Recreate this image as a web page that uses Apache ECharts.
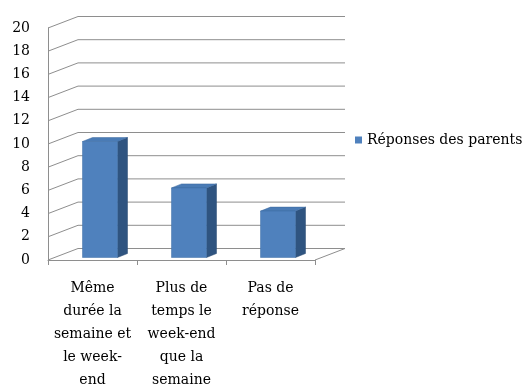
<!DOCTYPE html>
<html>
<head>
<meta charset="utf-8">
<script src="https://cdn.jsdelivr.net/npm/echarts@6/dist/echarts.min.js"></script>
<style>
  html, body { margin: 0; padding: 0; background: #fff; }
  #chart { width: 526px; height: 387px; }
</style>
</head>
<body>
<div id="chart"></div>
<script>
// Categories (line breaks as they wrap under the axis)
const categories = [
  'Même\ndurée la\nsemaine et\nle week-\nend',
  'Plus de\ntemps le\nweek-end\nque la\nsemaine',
  'Pas de\nréponse'
];
const seriesName = 'Réponses des parents';
const values = [10, 6, 4];
const yTicks = [0, 2, 4, 6, 8, 10, 12, 14, 16, 18, 20];

// Perspective of the box (back wall offset) and of the bars
const DEPTH_X = 30, DEPTH_Y = -11.5;
const BAR_W = 35, BAR_SHIFT_X = 7.5, BAR_SHIFT_Y = -2.5, BAR_DX = 10, BAR_DY = -4;
const GRID_COLOR = '#8e8e8e';
const FONT = '"DejaVu Serif", "Liberation Serif", serif';

const chart = echarts.init(document.getElementById('chart'), null, { renderer: 'canvas' });

function wallItem(params, api) {
  const cs = params.coordSys;
  const v = api.value(0);
  const y = api.coord([0, v])[1];
  const x0 = cs.x, x1 = cs.x + cs.width;
  const style = { stroke: GRID_COLOR, lineWidth: 1, fill: null };
  const children = [
    { type: 'line', shape: { x1: x0, y1: y, x2: x0 + DEPTH_X, y2: y + DEPTH_Y }, style },
    { type: 'line', shape: { x1: x0 + DEPTH_X, y1: y + DEPTH_Y, x2: x1 + DEPTH_X, y2: y + DEPTH_Y }, style }
  ];
  if (v === 0) {
    children.push({ type: 'line', shape: { x1: x1, y1: y, x2: x1 + DEPTH_X, y2: y + DEPTH_Y }, style });
  }
  return { type: 'group', children };
}

function barItem(params, api) {
  const top = api.coord([api.value(0), api.value(1)]);
  const base = api.coord([api.value(0), 0]);
  const xl = top[0] - BAR_W / 2 + BAR_SHIFT_X;
  const xr = xl + BAR_W;
  const yt = top[1] + BAR_SHIFT_Y;
  const yb = base[1] + BAR_SHIFT_Y;
  return {
    type: 'group',
    children: [
      { type: 'polygon', shape: { points: [[xr, yt], [xr + BAR_DX, yt + BAR_DY], [xr + BAR_DX, yb + BAR_DY], [xr, yb]] },
        style: { fill: '#2f5480', stroke: '#2a4a72', lineWidth: 0.5 } },
      { type: 'polygon', shape: { points: [[xl, yt], [xl + BAR_DX, yt + BAR_DY], [xr + BAR_DX, yt + BAR_DY], [xr, yt]] },
        style: { fill: '#4a7bb5', stroke: '#3d6aa0', lineWidth: 0.5 } },
      { type: 'rect', shape: { x: xl, y: yt, width: BAR_W, height: yb - yt },
        style: { fill: '#4f81bd', stroke: '#3f6ea6', lineWidth: 0.5 } }
    ]
  };
}

chart.setOption({
  animation: false,
  backgroundColor: '#ffffff',
  grid: { left: 48, right: 211, top: 28, bottom: 127, containLabel: false, outerBoundsMode: 'none' },
  legend: {
    data: [{ name: seriesName, icon: 'rect' }],
    left: 350, top: 128,
    itemWidth: 7, itemHeight: 7, itemGap: 3,
    textStyle: { fontFamily: FONT, fontSize: 14, color: '#000' }
  },
  xAxis: {
    type: 'category',
    data: categories,
    boundaryGap: true,
    axisLine: { lineStyle: { color: GRID_COLOR } },
    axisTick: { show: true, length: 5, lineStyle: { color: GRID_COLOR } },
    axisLabel: { interval: 0, margin: 17, fontFamily: FONT, fontSize: 14, color: '#000', lineHeight: 23, align: 'center' },
    splitLine: { show: false }
  },
  yAxis: {
    type: 'value',
    min: 0, max: 20, interval: 2,
    axisLine: { show: true, lineStyle: { color: GRID_COLOR } },
    axisTick: { show: false },
    axisLabel: { margin: 18, fontFamily: FONT, fontSize: 14, color: '#000' },
    splitLine: { show: false }
  },
  series: [
    {
      type: 'custom',
      name: 'walls',
      silent: true,
      renderItem: wallItem,
      data: yTicks.map(v => [v]),
      encode: { y: 0 },
      z: 1
    },
    {
      type: 'custom',
      name: seriesName,
      itemStyle: { color: '#4f81bd' },
      renderItem: barItem,
      data: values.map((v, i) => [i, v]),
      encode: { x: 0, y: 1 },
      z: 5
    }
  ]
});
</script>
</body>
</html>
